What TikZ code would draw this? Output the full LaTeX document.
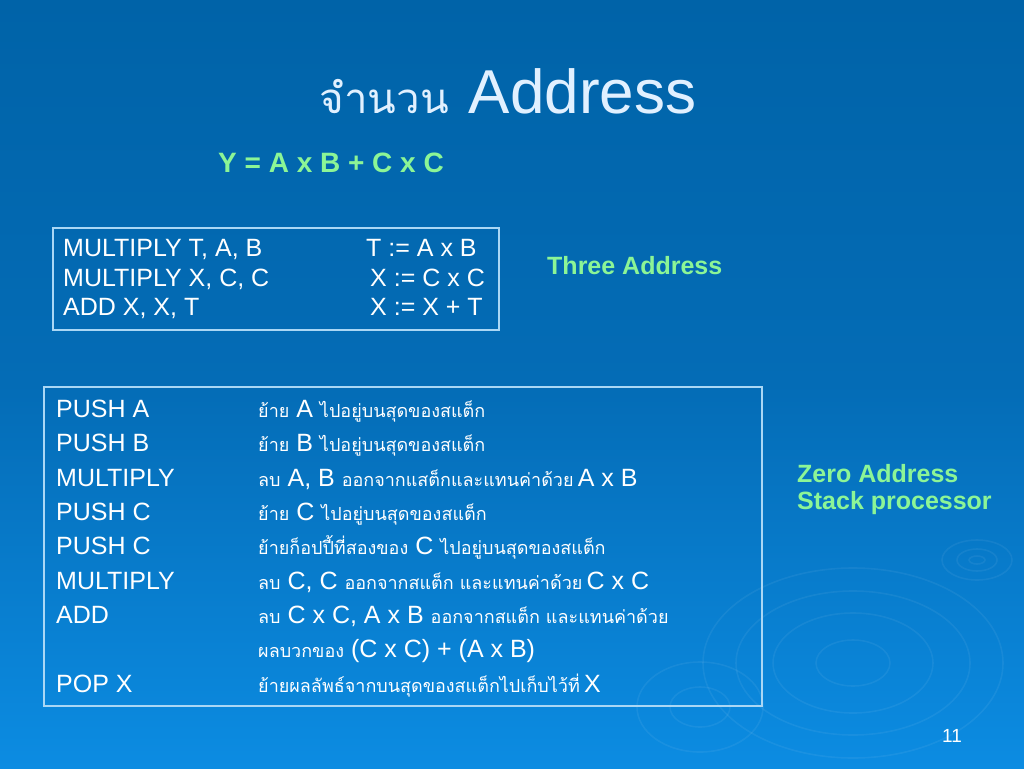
\documentclass[tikz,border=0pt]{standalone}
\usepackage{fontspec}
\setmainfont{Liberation Sans}
\newfontfamily\thai[Script=Thai]{Loma}
\definecolor{bgtop}{RGB}{0,99,168}
\definecolor{bgmid}{RGB}{4,108,182}
\definecolor{bgbot}{RGB}{12,140,226}
\definecolor{greentxt}{RGB}{140,245,150}
\definecolor{boxline}{RGB}{170,215,245}
\definecolor{titletxt}{RGB}{225,240,255}
\newcommand\Lt[1]{{\fontsize{25}{30}\selectfont #1}}
\newcommand\Th[1]{{\thai\fontsize{18}{22}\selectfont #1}}
\tikzset{
  txt/.style={anchor=base west, inner sep=0pt, text=white, font=\fontsize{25}{30}\selectfont},
  green/.style={anchor=base west, inner sep=0pt, text=greentxt, font=\bfseries\fontsize{25}{30}\selectfont},
  frame/.style={draw=boxline, line width=1.2pt},
  ripple/.style={draw=white, opacity=0.06, line width=1.6pt}
}
\begin{document}
\begin{tikzpicture}[x=1pt,y=-1pt]
\useasboundingbox (0,0) rectangle (1024,768);
\shade[top color=bgtop, bottom color=bgbot, middle color=bgmid] (0,0) rectangle (1024,768);
% ripples
\foreach \a/\b in {8/4,20/11,35/20}{\draw[ripple] (977,560) ellipse ({\a} and {\b});}
\foreach \a/\b in {37/23,80/50,117/72,150/95}{\draw[ripple] (853,663) ellipse ({\a} and {\b});}
\foreach \a/\b in {30/20,63/45}{\draw[ripple] (700,707) ellipse ({\a} and {\b});}
% title
\node (title) [anchor=base, inner sep=0pt, text=titletxt] at (508,113) {{\thai\fontsize{42}{48}\selectfont จำนวน}\hspace{20pt}{\fontsize{62}{70}\selectfont Address}};
\node (eq) [green, font=\bfseries\fontsize{28}{32}\selectfont] at (218,172) {Y = A x B + C x C};
% three address box
\draw[frame] (53,228) rectangle (499,330);
\node (t1) [txt] at (63,256) {MULTIPLY T, A, B};
\node (t2) [txt] at (63,286) {MULTIPLY X, C, C};
\node (t3) [txt] at (63,315) {ADD X, X, T};
\node (r1) [txt] at (366,256) {T := A x B};
\node (r2) [txt] at (370,286) {X := C x C};
\node (r3) [txt] at (370,315) {X := X + T};
\node (three) [green] at (547,274) {Three Address};
% stack box
\draw[frame] (44,387) rectangle (762,706);
\node (p1) [txt] at (56,417) {PUSH A};
\node (p2) [txt] at (56,451) {PUSH B};
\node (p3) [txt] at (56,486) {MULTIPLY};
\node (p4) [txt] at (56,520) {PUSH C};
\node (p5) [txt] at (56,554) {PUSH C};
\node (p6) [txt] at (56,589) {MULTIPLY};
\node (p7) [txt] at (56,623) {ADD};
\node (p9) [txt] at (56,692) {POP X};
\node (d1) [txt] at (258,417) {\Th{ย้าย} \Lt{A} \Th{ไปอยู่บนสุดของสแต็ก}};
\node (d2) [txt] at (258,451) {\Th{ย้าย} \Lt{B} \Th{ไปอยู่บนสุดของสแต็ก}};
\node (d3) [txt] at (258,486) {\Th{ลบ} \Lt{A, B} \Th{ออกจากแสต็กและแทนค่าด้วย}\,\Lt{A x B}};
\node (d4) [txt] at (258,520) {\Th{ย้าย} \Lt{C} \Th{ไปอยู่บนสุดของสแต็ก}};
\node (d5) [txt] at (258,554) {\Th{ย้ายก็อปปี้ที่สองของ} \Lt{C} \Th{ไปอยู่บนสุดของสแต็ก}};
\node (d6) [txt] at (258,589) {\Th{ลบ} \Lt{C, C} \Th{ออกจากสแต็ก และแทนค่าด้วย}\,\Lt{C x C}};
\node (d7) [txt] at (258,623) {\Th{ลบ} \Lt{C x C, A x B} \Th{ออกจากสแต็ก และแทนค่าด้วย}};
\node (d8) [txt] at (258,657) {\Th{ผลบวกของ} \Lt{(C x C) + (A x B)}};
\node (d9) [txt] at (258,692) {\Th{ย้ายผลลัพธ์จากบนสุดของสแต็กไปเก็บไว้ที่}\,\Lt{X}};
\node (zero) [green] at (797,482) {Zero Address};
\node (stackp) [green] at (797,509) {Stack processor};
% page number
\node (pg) [anchor=base, inner sep=0pt, text=white, font=\fontsize{19}{22}\selectfont] at (952,742) {11};
\end{tikzpicture}
\end{document}
